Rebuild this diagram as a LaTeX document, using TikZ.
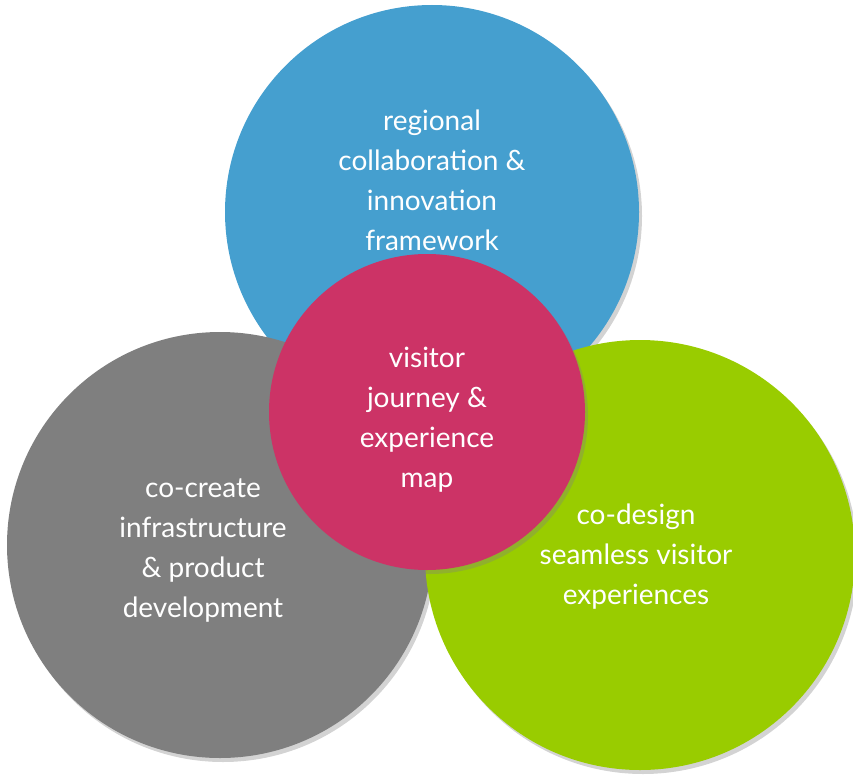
\documentclass[tikz,border=0pt]{standalone}
\usepackage{fontspec}
\setmainfont{Lato}
\usetikzlibrary{shadows}
\definecolor{skyblue}{HTML}{459FCF}
\definecolor{midgrey}{HTML}{7F7F7F}
\definecolor{limegreen}{HTML}{99CC00}
\definecolor{rosered}{HTML}{CC3366}
\begin{document}
\begin{tikzpicture}[x=1pt, y=-1pt,
  blob/.style={circle, inner sep=0pt, drop shadow={opacity=0.35, shadow xshift=3pt, shadow yshift=-4pt}},
  words/.style={text=white, align=center, font=\fontsize{28}{40}\selectfont}]
		\useasboundingbox (0,0) rectangle (853,776);
		\fill[skyblue, blob] (432,212) circle (207);
		\fill[midgrey, blob] (220,545) circle (213);
		\fill[limegreen, blob] (640,555) circle (215);
		\fill[rosered, blob] (427,412) circle (158);
		\node[words] (top) at (432,180) {regional\\collaboration \&\\innovation\\framework};
		\node[words] (mid) at (427,420) {visitor\\journey \&\\experience\\map};
		\node[words] (left) at (203,550) {co-create\\infrastructure\\\& product\\development};
		\node[words] (right) at (636,557) {co-design\\seamless visitor\\experiences};
	\end{tikzpicture}
\end{document}
